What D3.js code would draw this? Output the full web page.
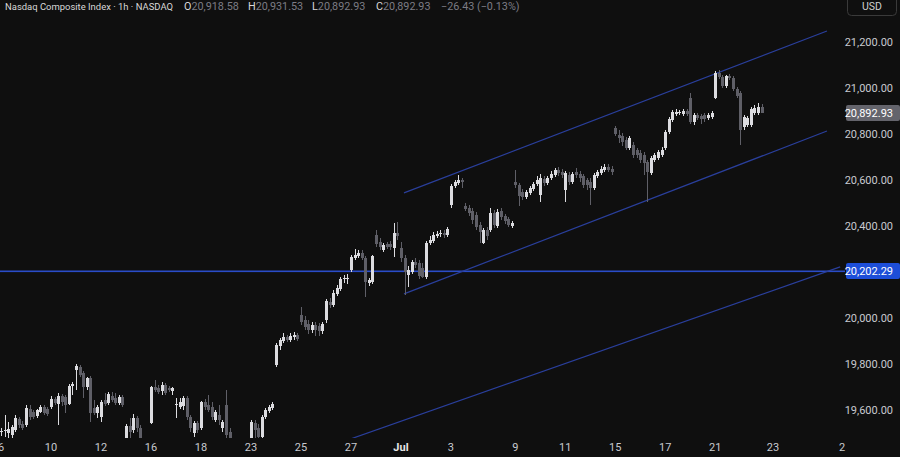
<!DOCTYPE html>
<html><head><meta charset="utf-8">
<script src="https://cdn.jsdelivr.net/npm/d3@7"></script>
<style>
html,body{margin:0;padding:0;background:#0f0f0f;overflow:hidden}
svg{display:block}
</style></head><body>
<svg id="chart" width="900" height="457"></svg>
<script>
// [open, high, low, close] hourly bars, Jun 6 -> Jul 22
const ohlc = [
[19505,19522,19487,19509],[19509,19578,19483,19513],[19500,19548,19479,19518],[19492,19535,19470,19526],[19513,19578,19505,19566],[19561,19570,19522,19535],[19539,19552,19513,19522],
[19535,19622,19526,19609],[19605,19622,19557,19570],[19592,19600,19561,19570],[19574,19605,19566,19600],[19592,19622,19587,19613],[19613,19622,19578,19587],[19605,19613,19574,19583],
[19613,19661,19605,19648],[19648,19657,19622,19631],[19626,19674,19535,19661],[19661,19670,19618,19635],[19657,19666,19587,19622],[19626,19713,19622,19705],[19705,19722,19666,19713],
[19774,19800,19687,19791],[19787,19796,19744,19752],[19761,19770,19652,19700],[19700,19744,19687,19739],[19739,19748,19548,19587],[19609,19644,19578,19587],[19587,19622,19566,19613],
[19570,19644,19548,19635],[19644,19674,19618,19626],[19631,19679,19622,19670],[19661,19679,19635,19644],[19652,19674,19622,19631],[19631,19666,19622,19657],[19657,19666,19613,19622],
[19448,19539,19426,19531],[19531,19566,19470,19505],[19513,19583,19500,19566],[19566,19574,19505,19522],[19522,19535,19426,19448],[19435,19448,19400,19418],[19418,19457,19405,19444],
[19544,19705,19539,19700],[19700,19731,19679,19687],[19696,19709,19670,19679],[19683,19722,19666,19709],[19709,19718,19666,19674],[19696,19705,19679,19687],[19683,19700,19666,19696],
[19622,19652,19566,19626],[19613,19652,19605,19635],[19618,19661,19600,19652],[19652,19661,19557,19570],[19570,19578,19505,19522],[19500,19552,19483,19544],[19544,19552,19500,19513],
[19522,19639,19513,19635],[19635,19648,19600,19613],[19622,19666,19592,19600],[19613,19635,19557,19570],[19557,19600,19548,19592],[19578,19622,19535,19557],[19522,19557,19505,19548],
[19622,19687,19470,19492],[19505,19522,19435,19470],[19448,19470,19400,19418],[19418,19452,19392,19435],[19435,19448,19383,19405],[19405,19444,19392,19426],[19426,19461,19418,19444],
[19448,19557,19435,19548],[19544,19557,19470,19513],[19522,19539,19448,19483],[19483,19578,19461,19570],[19570,19609,19561,19600],[19596,19622,19587,19613],[19609,19635,19600,19626],
[19796,19892,19787,19883],[19879,19913,19861,19905],[19900,19935,19892,19918],[19918,19926,19896,19905],[19905,19935,19896,19922],[19918,19940,19905,19926],[19926,19935,19900,19909],
[20013,20048,19970,19983],[19991,20009,19948,19961],[19974,19991,19931,19948],[19948,19983,19935,19970],[19970,19983,19922,19948],[19966,19979,19922,19944],[19944,19983,19931,19974],
[19991,20083,19979,20074],[20070,20087,20044,20057],[20057,20122,20048,20109],[20105,20144,20096,20131],[20126,20179,20118,20170],[20170,20187,20153,20174],[20170,20192,20148,20174],
[20209,20274,20200,20266],[20261,20300,20253,20274],[20270,20296,20261,20283],[20283,20296,20253,20261],[20261,20270,20092,20157],[20153,20174,20139,20166],[20157,20274,20148,20270],
[20361,20383,20309,20322],[20331,20348,20296,20309],[20296,20326,20287,20318],[20322,20331,20300,20309],[20322,20335,20296,20309],[20305,20413,20266,20370],[20370,20418,20339,20357],
[20305,20331,20244,20261],[20261,20274,20100,20200],[20187,20226,20135,20209],[20200,20253,20192,20244],[20244,20261,20218,20231],[20239,20253,20170,20183],[20218,20239,20174,20179],
[20179,20335,20170,20326],[20326,20357,20318,20339],[20335,20374,20326,20361],[20357,20379,20348,20366],[20366,20383,20353,20370],[20370,20383,20348,20361],[20361,20396,20353,20387],
[20492,20583,20479,20574],[20574,20600,20566,20592],[20587,20622,20579,20600],[20600,20609,20566,20592],
[20487,20500,20466,20474],[20479,20492,20444,20457],[20466,20479,20409,20426],[20448,20461,20383,20396],[20405,20418,20326,20374],[20326,20392,20322,20383],[20383,20396,20339,20357],
[20383,20479,20374,20457],[20457,20470,20392,20405],[20400,20474,20392,20461],[20466,20479,20426,20439],[20444,20452,20409,20422],[20431,20439,20396,20405],[20400,20422,20392,20413],
[20592,20644,20566,20579],[20579,20587,20487,20531],[20548,20561,20513,20526],[20526,20557,20518,20548],[20544,20574,20535,20566],[20561,20592,20553,20583],[20583,20618,20574,20600],
[20535,20626,20505,20609],[20605,20618,20574,20587],[20587,20618,20579,20609],[20609,20640,20600,20626],[20622,20653,20613,20644],[20644,20657,20618,20631],[20635,20648,20609,20622],
[20557,20640,20505,20631],[20622,20635,20579,20592],[20592,20635,20583,20626],[20635,20653,20609,20622],[20626,20640,20592,20609],[20618,20626,20566,20579],[20600,20609,20557,20579],
[20592,20609,20492,20566],[20566,20631,20557,20622],[20618,20644,20609,20635],[20631,20661,20622,20648],[20644,20670,20635,20657],[20657,20670,20635,20644],[20648,20661,20622,20635],
[20826,20835,20792,20800],[20796,20818,20761,20783],[20792,20805,20748,20766],[20774,20787,20731,20740],[20740,20792,20731,20783],[20753,20766,20696,20709],[20731,20740,20696,20709],
[20718,20731,20674,20687],[20709,20722,20622,20674],[20679,20687,20505,20635],[20631,20705,20622,20696],[20687,20718,20679,20709],[20696,20731,20687,20722],[20709,20744,20700,20731],
[20740,20818,20731,20809],[20809,20874,20800,20866],[20861,20905,20853,20896],[20887,20909,20879,20896],[20892,20905,20883,20896],[20887,20909,20879,20900],[20900,20909,20879,20887],
[20957,20979,20844,20853],[20853,20892,20840,20883],[20883,20892,20861,20870],[20879,20887,20844,20866],[20883,20892,20853,20866],[20870,20892,20861,20883],[20874,20900,20866,20892],
[20957,21074,20953,21066],[21066,21079,21040,21048],[21048,21057,21000,21009],[21009,21057,21000,21053],[21053,21061,21035,21044],[21044,21053,20987,20996],[20996,21005,20957,20966],
[20979,20987,20753,20818],[20831,20883,20818,20874],[20840,20879,20831,20870],[20840,20918,20831,20909],[20892,20926,20883,20913],[20892,20935,20883,20918],[20918.58,20931.53,20892.93,20892.93]
];
const xTickIdx    = [0, 14, 28, 42, 56, 70, 84, 98, 112, 126, 144, 158, 172, 186, 200, 216.2, 235.5];
const xTickLabels = ["6","10","12","16","18","23","25","27","Jul","3","9","11","15","17","21","23","2"];
const yTicks = [19600, 19800, 20000, 20400, 20600, 20800, 21000, 21200];
const hLevel = 20202.29;
const lastPrice = 20892.93;
const channelUpper = [[112.85, 20544], [231.3, 21248]];
const channelLower = [[112.85, 20105], [231.3, 20813]];
const channelBottom = [[90, 19431], [235, 20222]];
const header = {title: "Nasdaq Composite Index · 1h · NASDAQ", o: "20,918.58", h: "20,931.53", l: "20,892.93", c: "20,892.93", chg: "−26.43 (−0.13%)"};

const W = 900, H = 457, paneR = 845, paneB = 438;
const FONT = "Roboto, 'Liberation Sans', sans-serif";
const UP = "#dcdce0", DOWN = "#5f5f67", BG = "#0f0f0f";

const svg = d3.select("#chart");
svg.append("rect").attr("width", W).attr("height", H).attr("fill", BG);

const x = d3.scaleLinear().domain([0, 213]).range([1, 1 + 213 * 3.571]);
const y = d3.scaleLinear().domain([19600, 21200]).range([410, 42]);

svg.append("defs").append("clipPath").attr("id", "pane")
  .append("rect").attr("x", 0).attr("y", 0).attr("width", paneR).attr("height", paneB);

const pane = svg.append("g").attr("clip-path", "url(#pane)");

// horizontal level
const hy = Math.round(y(hLevel));
pane.append("rect").attr("x", 0).attr("width", paneR).attr("y", hy - 0.5).attr("height", 1.6)
  .attr("fill", "#2a4cc8");

// channel lines
const line = d3.line().x(d => x(d[0])).y(d => y(d[1]));
[channelUpper, channelLower, channelBottom].forEach(seg => {
  pane.append("path").attr("d", line(seg)).attr("fill", "none")
    .attr("stroke", "#2a3f9c").attr("stroke-width", 1.2);
});

// candles
const cg = pane.append("g");
ohlc.forEach((d, i) => {
  const [o, h, l, c] = d;
  const col = c >= o ? UP : DOWN;
  const cx = x(i);
  cg.append("rect").attr("x", Math.round(cx)).attr("y", y(h)).attr("width", 1)
    .attr("height", Math.max(1, y(l) - y(h))).attr("fill", col).attr("shape-rendering", "crispEdges");
  const top = Math.min(y(o), y(c)), bh = Math.max(1, Math.abs(y(o) - y(c)));
  cg.append("rect").attr("x", Math.round(cx) - 1).attr("y", top).attr("width", 3)
    .attr("height", bh).attr("fill", col).attr("shape-rendering", "crispEdges");
});

// x axis labels
const xAxis = svg.append("g");
xTickIdx.forEach((t, k) => {
  xAxis.append("text").attr("x", x(t)).attr("y", 451)
    .attr("text-anchor", "middle").attr("font-family", FONT)
    .attr("font-size", 11).attr("font-weight", xTickLabels[k] === "Jul" ? 700 : 400)
    .attr("fill", xTickLabels[k] === "Jul" ? "#e6e6e6" : "#c8cad0")
    .text(xTickLabels[k]);
});

// y axis labels
const fmt = d3.format(",.2f");
const yAxis = svg.append("g");
yTicks.forEach(t => {
  yAxis.append("text").attr("x", 893).attr("y", y(t) + 4)
    .attr("text-anchor", "end").attr("font-family", FONT).attr("font-size", 11)
    .attr("fill", "#c8cad0").text(fmt(t));
});

// price labels
function priceTag(val, bg) {
  const yy = Math.round(y(val));
  svg.append("rect").attr("x", 846).attr("y", yy - 8).attr("width", 54).attr("height", 16)
    .attr("rx", 2).attr("fill", bg);
  svg.append("text").attr("x", 893).attr("y", yy + 4).attr("text-anchor", "end")
    .attr("font-family", FONT).attr("font-size", 11).attr("fill", "#ffffff").text(fmt(val));
}
priceTag(lastPrice, "#64646c");
priceTag(hLevel, "#1d4ed8");

// USD box
svg.append("rect").attr("x", 847.5).attr("y", -4.5).attr("width", 49).attr("height", 20)
  .attr("rx", 4).attr("fill", "none").attr("stroke", "#3a3a3a");
svg.append("text").attr("x", 872).attr("y", 10).attr("text-anchor", "middle")
  .attr("font-family", FONT).attr("font-size", 10.5).attr("fill", "#d0d0d0").text("USD");

// header
const hl = "#d8d8d8", hv = "#7c7c84";
const hg = svg.append("g").attr("font-family", FONT);
hg.append("text").attr("x", 5).attr("y", 10).attr("font-size", 9.6).attr("fill", hl)
  .attr("textLength", 168).attr("lengthAdjust", "spacingAndGlyphs").text(header.title);
[["O", header.o, 184], ["H", header.h, 248], ["L", header.l, 312], ["C", header.c, 376]].forEach(([k, v, px]) => {
  const t = hg.append("text").attr("x", px).attr("y", 10).attr("font-size", 10.8);
  t.append("tspan").attr("fill", hl).text(k);
  t.append("tspan").attr("fill", hv).text(v);
});
hg.append("text").attr("x", 441).attr("y", 10).attr("font-size", 10.8).attr("fill", hv).text(header.chg);
</script>
</body></html>
